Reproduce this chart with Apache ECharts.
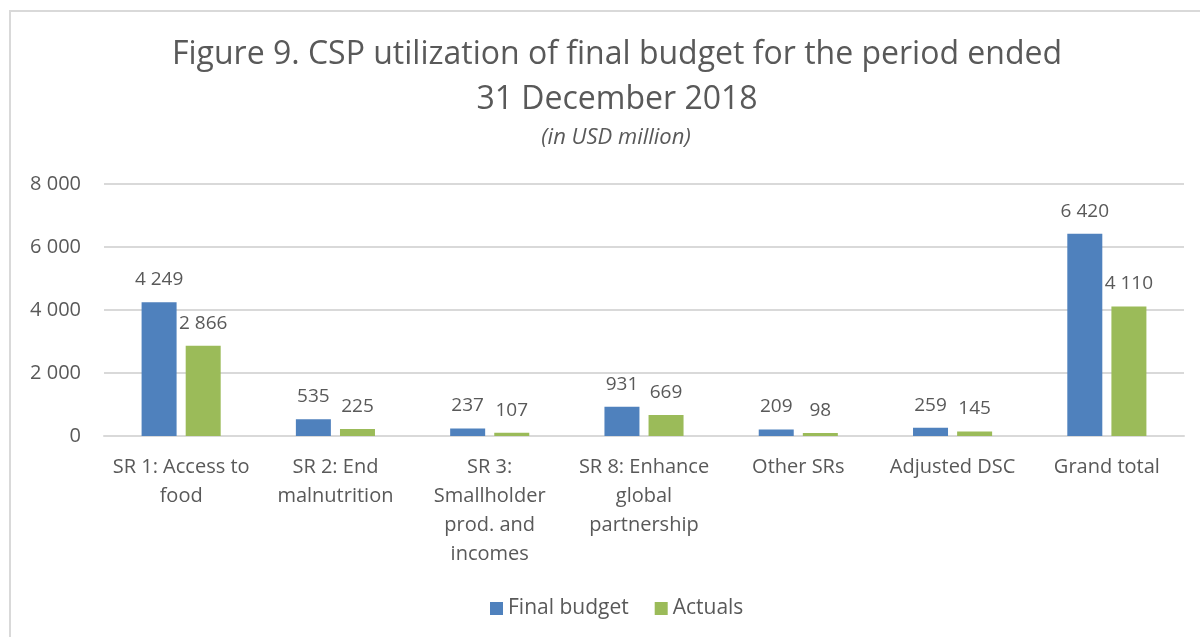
<!DOCTYPE html>
<html>
<head>
<meta charset="utf-8">
<script src="https://cdn.jsdelivr.net/npm/echarts@6/dist/echarts.min.js"></script>
<style>
  html, body { margin: 0; padding: 0; background: #fff; }
  #main { width: 1200px; height: 637px; }
</style>
</head>
<body>
<div id="main"></div>
<script>
// categories and values (USD million)
var categories = [
  'SR 1: Access to\nfood',
  'SR 2: End\nmalnutrition',
  'SR 3:\nSmallholder\nprod. and\nincomes',
  'SR 8: Enhance\nglobal\npartnership',
  'Other SRs',
  'Adjusted DSC',
  'Grand total'
];
var finalBudget = [4249, 535, 237, 931, 209, 259, 6420];
var actuals = [2866, 225, 107, 669, 98, 145, 4110];
var yTicks = [0, 2000, 4000, 6000, 8000];

var textColor = '#595959';
var font = '"Open Sans", "Noto Sans", sans-serif';

// 4249 -> "4 249"
function fmt(v) {
  return String(v).replace(/\B(?=(\d{3})+(?!\d))/g, ' ');
}

var myChart = echarts.init(document.getElementById('main'));
myChart.setOption({
  animation: false,
  color: ['#4f81bd', '#9bbb59'],
  textStyle: { fontFamily: font },
  title: [{
    text: 'Figure 9. CSP utilization of final budget for the period ended\n31 December 2018',
    left: 612,
    top: 27,
    textAlign: 'center',
    textStyle: {
      fontFamily: font,
      fontSize: 32,
      fontWeight: 'normal',
      color: textColor,
      lineHeight: 45
    }
  }, {
    text: '(in USD million)',
    left: 611,
    top: 122,
    textAlign: 'center',
    textStyle: {
      fontFamily: font,
      fontSize: 22,
      fontStyle: 'italic',
      fontWeight: 'normal',
      color: textColor
    }
  }],
  graphic: [{
    // outer frame of the figure
    type: 'polyline',
    shape: { points: [[10, 640], [10, 11], [1205, 11]] },
    style: { stroke: '#d9d9d9', lineWidth: 2, fill: null }
  }],
  legend: {
    bottom: 13,
    left: 485,
    itemWidth: 13,
    itemHeight: 13,
    itemGap: 26,
    icon: 'rect',
    textStyle: { fontFamily: font, fontSize: 21, color: textColor },
    data: ['Final budget', 'Actuals']
  },
  grid: {
    left: 104,
    right: 16,
    top: 184,
    bottom: 201,
    containLabel: false
  },
  xAxis: {
    type: 'category',
    data: categories,
    axisTick: { show: false },
    axisLine: { lineStyle: { color: '#d9d9d9', width: 2 } },
    axisLabel: {
      interval: 0,
      color: textColor,
      fontFamily: font,
      fontSize: 20,
      lineHeight: 29,
      margin: 17
    }
  },
  yAxis: {
    type: 'value',
    min: yTicks[0],
    max: yTicks[yTicks.length - 1],
    interval: 2000,
    axisLine: { show: false },
    axisTick: { show: false },
    splitLine: { lineStyle: { color: '#d9d9d9', width: 2 } },
    axisLabel: {
      color: textColor,
      fontFamily: font,
      fontSize: 20,
      margin: 23,
      formatter: fmt
    }
  },
  series: [{
    name: 'Final budget',
    type: 'bar',
    data: finalBudget,
    barWidth: 35,
    barGap: '26%',
    label: {
      show: true,
      position: 'top',
      distance: 13,
      color: textColor,
      fontFamily: font,
      fontSize: 19,
      formatter: function (p) { return fmt(p.value); }
    }
  }, {
    name: 'Actuals',
    type: 'bar',
    data: actuals,
    barWidth: 35,
    label: {
      show: true,
      position: 'top',
      distance: 13,
      color: textColor,
      fontFamily: font,
      fontSize: 19,
      formatter: function (p) { return fmt(p.value); }
    }
  }]
});
</script>
</body>
</html>
